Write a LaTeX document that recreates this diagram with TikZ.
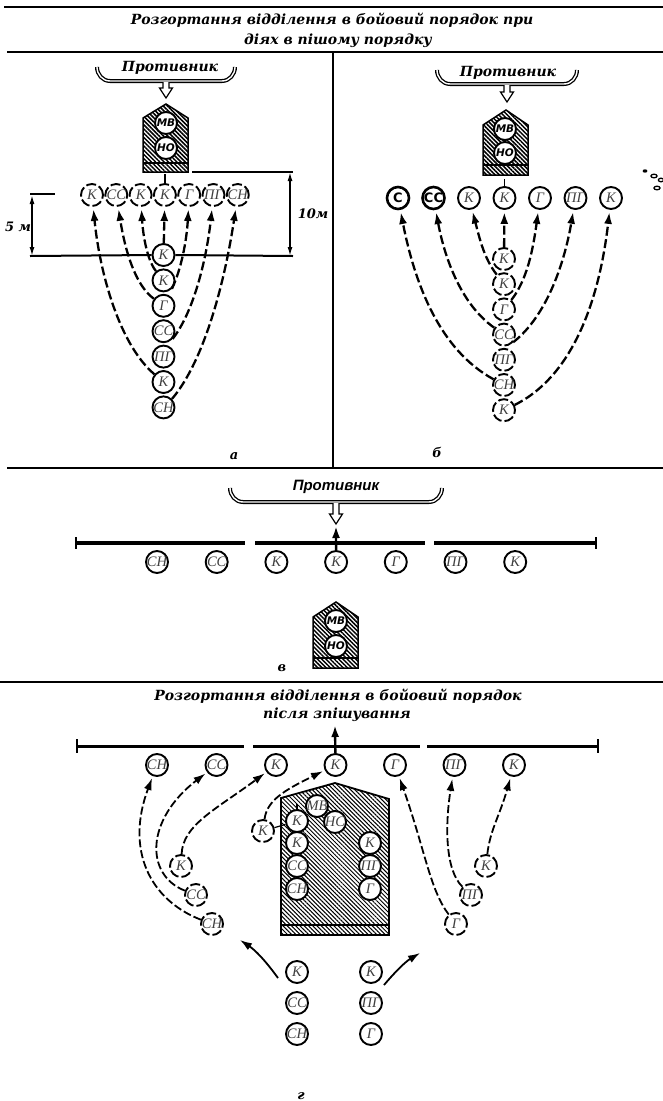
\documentclass[tikz,border=0pt]{standalone}
\usepackage{fontspec}
\setmainfont{Liberation Serif}
\newfontfamily\headfont{DejaVu Serif}
\newfontfamily\markfont{DejaVu Sans}
\newfontfamily\narrowfont{Liberation Sans}
\usepackage{tikz}
\usetikzlibrary{arrows.meta, patterns.meta}
\tikzstyle{soldier} = [circle, minimum size=22pt, inner sep=-3pt, draw=black, line width=1.9pt, fill=white, text=black!75, font=\itshape\fontsize{14.5}{14.5}\selectfont]
\tikzstyle{moved} = [soldier, dash pattern=on 10pt off 3pt]
\tikzstyle{strong} = [soldier, line width=2.6pt, text=black, font=\markfont\bfseries\fontsize{13}{13}\selectfont]
\tikzstyle{chief} = [soldier, text=black, font=\markfont\bfseries\itshape\fontsize{10.5}{10.5}\selectfont]
\tikzstyle{heading} = [inner sep=0pt, font=\headfont\bfseries\itshape\fontsize{14}{14}\selectfont]
\tikzstyle{foe} = [inner sep=0pt, font=\headfont\bfseries\itshape\fontsize{14}{14}\selectfont]
\tikzstyle{foewide} = [inner sep=0pt, font=\narrowfont\bfseries\itshape\fontsize{15}{15}\selectfont]
\tikzstyle{letter} = [inner sep=0pt, font=\headfont\bfseries\itshape\fontsize{13}{13}\selectfont]
\tikzstyle{rule} = [line width=2.8pt]
\tikzstyle{front} = [line width=3pt]
\tikzstyle{size} = [line width=1.5pt, {Latex[length=9pt,width=5pt]}-{Latex[length=9pt,width=5pt]}]
\tikzstyle{move} = [line width=2.3pt, dash pattern=on 9pt off 3.5pt, shorten >=2pt, -{Latex[length=12pt,width=8pt]}]
\tikzstyle{thinmove} = [move, line width=1.8pt, dash pattern=on 8pt off 3pt]
\tikzstyle{march} = [line width=1.8pt, -{Latex[length=12pt,width=8pt]}]
\tikzstyle{shield} = [draw=black, line width=1.5pt, pattern={Lines[angle=-45,distance=3pt,line width=1.5pt]}]
\tikzstyle{bigshield} = [draw=black, line width=1.8pt, pattern={Lines[angle=-45,distance=3pt,line width=1pt]}]
\tikzstyle{bracket} = [line width=1.3pt, double=white, double distance=1.4pt]
\newcommand{\enemy}[4]{
	\draw[bracket] (#1-#3,#2) to[out=-90,in=180] (#1-#3+13,#2+14) -- (#1+#3-13,#2+14) to[out=0,in=-90] (#1+#3,#2);
	\draw[fill=white, line width=1.2pt] (#1-3,#2+15) -- (#1-3,#4-10) -- (#1-6.5,#4-10) -- (#1,#4) -- (#1+6.5,#4-10) -- (#1+3,#4-10) -- (#1+3,#2+15);
}
\begin{document}
\begin{tikzpicture}[x=1pt,y=-1pt]
	\useasboundingbox (0,0) rectangle (663,1101);
	% rules and headings
	\draw[rule] (4,7) -- (663,7);
	\draw[rule] (7,52) -- (663,52);
	\draw[rule] (333,52) -- (333,468);
	\draw[rule] (7,468) -- (663,468);
	\draw[rule] (0,682) -- (663,682);
	\node (head1) [heading] at (332,20) {Розгортання відділення в бойовий порядок при};
	\node (head2) [heading] at (338,41) {діях в пішому порядку};
	\node (head3) [heading] at (338,696) {Розгортання відділення в бойовий порядок};
	\node (head4) [heading] at (337,715) {після зпішування};

	% panel a
	\enemy{166}{67}{69}{98}
	\node (foeA) [foe] at (170,68) {Противник};
	\draw[shield] (143,118) -- (166,104) -- (188,118) -- (188,172) -- (143,172) -- cycle;
	\draw[line width=1.4pt] (143,163) -- (188,163);
	\node (aMB) [chief] at (166,123) {МВ};
	\node (aHO) [chief] at (166,148) {НО};
	\begin{scope}[node distance=24.3pt]
		\node (aR1) [moved] at (92,195) {К};
		\node (aR2) [moved, right of=aR1] {СС};
		\node (aR3) [moved, right of=aR2] {К};
		\node (aR4) [moved, right of=aR3] {К};
		\node (aR5) [moved, right of=aR4] {Г};
		\node (aR6) [moved, right of=aR5] {ПГ};
		\node (aR7) [moved, right of=aR6] {СН};
	\end{scope}
	\begin{scope}[node distance=25.4pt]
		\node (aC1) [soldier] at (163.5,255) {К};
		\node (aC2) [soldier, below of=aC1] {К};
		\node (aC3) [soldier, below of=aC2] {Г};
		\node (aC4) [soldier, below of=aC3] {СС};
		\node (aC5) [soldier, below of=aC4] {ПГ};
		\node (aC6) [soldier, below of=aC5] {К};
		\node (aC7) [soldier, below of=aC6] {СН};
	\end{scope}
	\draw[line width=1.2pt] (aR4.north) -- ++(0,-9);
	\draw[move] (aC6) .. controls (120,345) and (100,275) .. (aR1);
	\draw[move] (aC3) .. controls (135,285) and (125,250) .. (aR2);
	\draw[move] (aC2) .. controls (147,260) and (143,235) .. (aR3);
	\draw[move] (aC1) -- (aR4);
	\draw[move] (aC2.-45) .. controls (183,265) and (187,235) .. (aR5);
	\draw[move] (aC4.-40) .. controls (195,310) and (207,255) .. (aR6);
	\draw[move] (aC7.45) .. controls (205,360) and (225,280) .. (aR7);
	% distances
	\draw[line width=2.2pt] (30,194) -- (55,194);
	\draw[line width=2pt] (30,256) -- (aC1.west);
	\draw[line width=2pt] (aC1.east) -- (293,256);
	\draw[line width=1.8pt] (192,172) -- (293,172);
	\draw[size] (32,195) -- (32,256);
	\draw[size] (290,172) -- (290,256);
	\node (dist5) [letter] at (18,227) {5 м};
	\node (dist10) [letter] at (313,214) {10м};
	\node (markA) [letter] at (234,456) {а};

	% panel b
	\enemy{507}{70}{70}{102}
	\node (foeB) [foe] at (508,73) {Противник};
	\draw[shield] (483,125) -- (506,110) -- (528,125) -- (528,175) -- (483,175) -- cycle;
	\draw[line width=1.4pt] (483,165) -- (528,165);
	\node (bMB) [chief] at (505,129) {МВ};
	\node (bHO) [chief] at (505,153) {НО};
	\begin{scope}[node distance=35.5pt]
		\node (bR1) [strong] at (398,198) {С};
		\node (bR2) [strong, right of=bR1] {СС};
		\node (bR3) [soldier, right of=bR2] {К};
		\node (bR4) [soldier, right of=bR3] {К};
		\node (bR5) [soldier, right of=bR4] {Г};
		\node (bR6) [soldier, right of=bR5] {ПГ};
		\node (bR7) [soldier, right of=bR6] {К};
	\end{scope}
	\begin{scope}[node distance=25.2pt]
		\node (bC1) [moved] at (504,259) {К};
		\node (bC2) [moved, below of=bC1] {К};
		\node (bC3) [moved, below of=bC2] {Г};
		\node (bC4) [moved, below of=bC3] {СС};
		\node (bC5) [moved, below of=bC4] {ПГ};
		\node (bC6) [moved, below of=bC5] {СН};
		\node (bC7) [moved, below of=bC6] {К};
	\end{scope}
	\draw[line width=1.2pt] (bR4.north) -- ++(0,-7);
	\draw[move] (bC6) .. controls (440,350) and (415,285) .. (bR1);
	\draw[move] (bC4) .. controls (462,305) and (445,260) .. (bR2);
	\draw[move] (bC2) .. controls (484,258) and (480,240) .. (bR3);
	\draw[move] (bC1) -- (bR4);
	\draw[move] (bC3) .. controls (527,280) and (533,250) .. (bR5);
	\draw[move] (bC4.-40) .. controls (548,315) and (565,260) .. (bR6);
	\draw[move] (bC7) .. controls (575,375) and (600,295) .. (bR7);
	\node (markB) [letter] at (437,452) {б};
	% specks at the edge
	\fill (645,171) ellipse (2.4 and 1.7);
	\draw[line width=1.3pt] (654,176) ellipse (3 and 1.8);
	\draw[line width=1.3pt] (661,180) ellipse (2.6 and 1.8);
	\draw[line width=1.3pt] (657,188) ellipse (3 and 1.8);

	% panel c
	\enemy{336}{488}{106}{524}
	\node (foeC) [foewide] at (336,487) {Противник};
	\draw[front, line width=3.4pt] (76,543) -- (245,543);
	\draw[front, line width=3.4pt] (255,543) -- (425,543);
	\draw[front, line width=3.4pt] (434,543) -- (596,543);
	\draw[line width=1.4pt] (76,537) -- (76,549);
	\draw[line width=1.4pt] (596,537) -- (596,549);
	\begin{scope}[node distance=59.7pt]
		\node (cR1) [soldier] at (157,562) {СН};
		\node (cR2) [soldier, right of=cR1] {СС};
		\node (cR3) [soldier, right of=cR2] {К};
		\node (cR4) [soldier, right of=cR3] {К};
		\node (cR5) [soldier, right of=cR4] {Г};
		\node (cR6) [soldier, right of=cR5] {ПГ};
		\node (cR7) [soldier, right of=cR6] {К};
	\end{scope}
	\coordinate (cTip) at (336,526);
	\draw[march, line width=2.4pt] (cR4) -- (cTip);
	\draw[shield] (313,617) -- (336,602) -- (358,617) -- (358,668) -- (313,668) -- cycle;
	\draw[line width=1.4pt] (313,658) -- (358,658);
	\node (cMB) [chief] at (336,621) {МВ};
	\node (cHO) [chief] at (336,646) {НО};
	\node (markC) [letter] at (282,668) {в};

	% panel d
	\draw[front] (77,746) -- (244,746);
	\draw[front] (253,746) -- (420,746);
	\draw[front] (427,746) -- (598,746);
	\draw[line width=2pt] (77,739) -- (77,753);
	\draw[line width=2pt] (598,739) -- (598,753);
	\draw[bigshield] (281,798) -- (335,783) -- (389,799) -- (389,935) -- (281,935) -- cycle;
	\draw[line width=1.2pt] (281,925) -- (389,925);
	\begin{scope}[node distance=59.5pt]
		\node (dR1) [soldier] at (157,765) {СН};
		\node (dR2) [soldier, right of=dR1] {СС};
		\node (dR3) [soldier, right of=dR2] {К};
		\node (dR4) [soldier, right of=dR3] {К};
		\node (dR5) [soldier, right of=dR4] {Г};
		\node (dR6) [soldier, right of=dR5] {ПГ};
		\node (dR7) [soldier, right of=dR6] {К};
	\end{scope}
	\coordinate (dTip) at (335,725);
	\draw[march, line width=2.4pt] (dR4) -- (dTip);
	% inside the vehicle
	\node (dMB) [soldier] at (317,806) {МВ};
	\node (dHC) [soldier] at (335,822) {НС};
	\node (dL1) [soldier] at (297,821) {К};
	\node (dL2) [soldier] at (297,843) {К};
	\node (dL3) [soldier] at (297,866) {СС};
	\node (dL4) [soldier] at (297,889) {СН};
	\node (dI1) [soldier] at (370,843) {К};
	\node (dI2) [soldier] at (370,866) {ПГ};
	\node (dI3) [soldier] at (370,889) {Г};
	\draw[line width=1.2pt] (dL1.north) -- ++(0,-5);
	% dismounted, on the way
	\node (dO1) [moved] at (263,831) {К};
	\node (dO2) [moved] at (181,866) {К};
	\node (dO3) [moved] at (196,895) {СС};
	\node (dO4) [moved] at (212,924) {СН};
	\node (dO5) [moved] at (456,924) {Г};
	\node (dO6) [moved] at (471,895) {ПГ};
	\node (dO7) [moved] at (486,866) {К};
	\draw[line width=1.2pt] (dO1) -- (dL1);
	\draw[thinmove] (dO4) .. controls (150,900) and (125,850) .. (dR1);
	\draw[thinmove] (dO3) .. controls (145,875) and (145,820) .. (dR2);
	\draw[thinmove] (dO2) .. controls (183,825) and (215,810) .. (dR3);
	\draw[thinmove] (dO1) .. controls (267,800) and (285,790) .. (dR4);
	\draw[thinmove] (dO5) .. controls (430,890) and (425,850) .. (dR5);
	\draw[thinmove] (dO6) .. controls (445,870) and (445,825) .. (dR6);
	\draw[thinmove] (dO7) .. controls (490,830) and (500,815) .. (dR7);
	% mounted
	\node (dB1) [soldier] at (297,972) {К};
	\node (dB2) [soldier] at (297,1003) {СС};
	\node (dB3) [soldier] at (297,1034) {СН};
	\node (dB4) [soldier] at (371,972) {К};
	\node (dB5) [soldier] at (371,1003) {ПГ};
	\node (dB6) [soldier] at (371,1034) {Г};
	\coordinate (dOutL) at (278,978);
	\coordinate (dTipL) at (240,940);
	\coordinate (dOutR) at (384,985);
	\coordinate (dTipR) at (420,953);
	\draw[march] (dOutL) .. controls (265,960) and (255,950) .. (dTipL);
	\draw[march] (dOutR) .. controls (395,972) and (405,962) .. (dTipR);
	\node (markD) [letter] at (301,1096) {г};
\end{tikzpicture}
\end{document}
